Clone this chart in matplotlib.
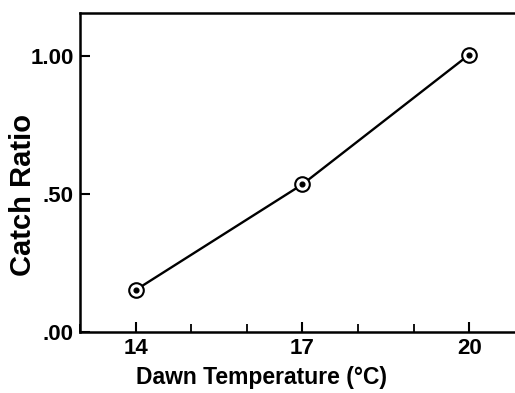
import matplotlib
matplotlib.use('Agg')
from matplotlib import pyplot as plt
from matplotlib.ticker import MultipleLocator, FixedLocator

plt.rcParams['font.family'] = ['Liberation Sans', 'DejaVu Sans']

# data
temps = [14, 17, 20]
catch_ratio = [0.152, 0.535, 1.005]
x_ticks = [14, 17, 20]
y_ticks = [0.0, 0.5, 1.0]
y_tick_labels = ['.00', '.50', '1.00']

fig = plt.figure(figsize=(5.15, 3.93), dpi=100)
ax = fig.add_axes([0.1553, 0.1552, 0.864, 0.812])

ax.plot(temps, catch_ratio, color='black', linewidth=1.7, zorder=2)
# open circle with a dot in it
ax.plot(temps, catch_ratio, linestyle='none', marker='o', markersize=10.5,
        markerfacecolor='white', markeredgecolor='black', markeredgewidth=1.5, zorder=3)
ax.plot(temps, catch_ratio, linestyle='none', marker='o', markersize=3.4,
        color='black', zorder=4)

ax.set_xlim(13, 21)
ax.set_ylim(0, 1.156)

ax.xaxis.set_major_locator(FixedLocator(x_ticks))
ax.xaxis.set_minor_locator(MultipleLocator(1))
ax.set_yticks(y_ticks)
ax.set_yticklabels(y_tick_labels)

ax.tick_params(axis='both', which='major', direction='in', length=7, width=1.5,
               labelsize=16, pad=4.5)
ax.tick_params(axis='x', which='minor', direction='in', length=6, width=1.3)
ax.tick_params(axis='y', which='minor', left=False)
for lab in ax.get_xticklabels() + ax.get_yticklabels():
    lab.set_fontweight('bold')

for side in ['left', 'bottom', 'top']:
    ax.spines[side].set_linewidth(1.8)
ax.spines['right'].set_visible(False)

ax.set_xlabel('Dawn Temperature (°C)', fontsize=16.5, fontweight='bold')
ax.set_ylabel('Catch Ratio', fontsize=21, fontweight='bold')
ax.xaxis.set_label_coords(0.408, -0.105)
ax.yaxis.set_label_coords(-0.097, 0.43)

plt.savefig('out.png', dpi=100)
